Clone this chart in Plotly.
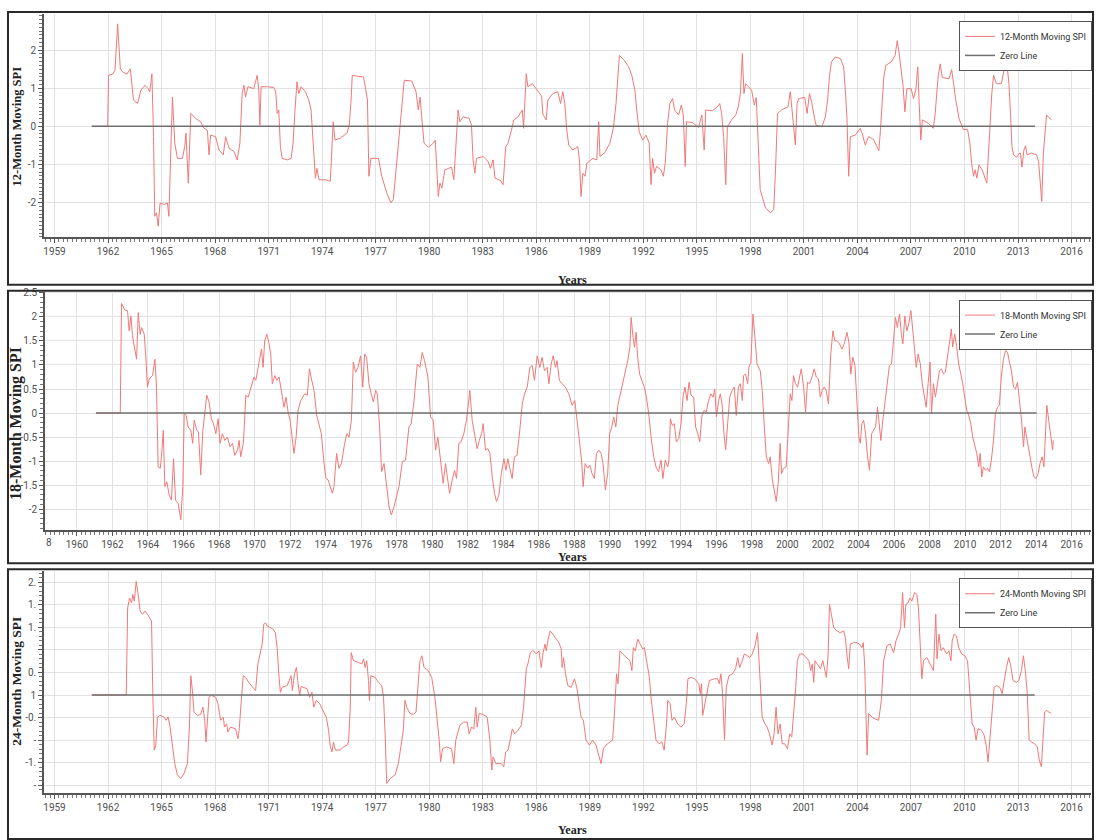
import plotly.graph_objects as go

W, H = 1096, 840


def fx(p):
    return p / W


def fy(p):
    return 1 - p / H


# ---------------- data: 12-month SPI ----------------
YEARS_12 = [1961.09, 1961.98, 1962.03, 1962.26, 1962.39, 1962.54, 1962.69, 1962.82, 1963.06, 1963.25, 1963.43, 1963.66, 1963.84, 1964.07, 1964.25, 1964.34, 1964.46, 1964.55, 1964.62, 1964.72, 1964.81, 1964.92, 1965.15, 1965.33, 1965.41, 1965.61, 1965.74, 1965.89, 1966.17, 1966.30, 1966.37, 1966.50, 1966.64, 1966.91, 1967.19, 1967.38, 1967.57, 1967.66, 1967.75, 1968.03, 1968.22, 1968.46, 1968.59, 1968.78, 1969.06, 1969.24, 1969.39, 1969.52, 1969.61, 1969.71, 1969.84, 1970.17, 1970.36, 1970.45, 1970.51, 1970.58, 1970.92, 1971.29, 1971.40, 1971.48, 1971.57, 1971.66, 1971.76, 1972.04, 1972.26, 1972.37, 1972.48, 1972.59, 1972.69, 1972.82, 1973.06, 1973.25, 1973.38, 1973.47, 1973.54, 1973.62, 1973.71, 1973.82, 1974.18, 1974.46, 1974.55, 1974.62, 1974.72, 1975.01, 1975.39, 1975.52, 1975.61, 1975.69, 1976.04, 1976.32, 1976.45, 1976.54, 1976.62, 1976.73, 1977.16, 1977.34, 1977.62, 1977.85, 1977.99, 1978.18, 1978.37, 1978.60, 1979.02, 1979.26, 1979.39, 1979.49, 1979.58, 1979.71, 1979.95, 1980.23, 1980.34, 1980.42, 1980.51, 1980.60, 1980.71, 1980.88, 1981.25, 1981.38, 1981.49, 1981.62, 1981.72, 1981.90, 1982.24, 1982.37, 1982.46, 1982.56, 1982.65, 1983.02, 1983.30, 1983.43, 1983.58, 1983.69, 1983.99, 1984.14, 1984.29, 1984.42, 1984.61, 1984.74, 1984.98, 1985.22, 1985.29, 1985.37, 1985.44, 1985.53, 1985.78, 1986.09, 1986.30, 1986.37, 1986.56, 1986.65, 1986.93, 1987.21, 1987.36, 1987.49, 1987.60, 1987.71, 1987.82, 1988.05, 1988.33, 1988.42, 1988.51, 1988.61, 1988.74, 1988.83, 1989.17, 1989.39, 1989.50, 1989.57, 1989.82, 1990.13, 1990.32, 1990.47, 1990.56, 1990.66, 1990.94, 1991.18, 1991.35, 1991.44, 1991.53, 1991.63, 1991.77, 1991.96, 1992.15, 1992.33, 1992.43, 1992.52, 1992.63, 1992.74, 1992.99, 1993.12, 1993.23, 1993.36, 1993.49, 1993.64, 1993.75, 1993.98, 1994.13, 1994.24, 1994.29, 1994.35, 1994.42, 1994.76, 1995.09, 1995.28, 1995.41, 1995.50, 1995.87, 1996.15, 1996.28, 1996.39, 1996.50, 1996.62, 1996.71, 1996.95, 1997.18, 1997.32, 1997.44, 1997.55, 1997.64, 1997.73, 1998.07, 1998.22, 1998.33, 1998.44, 1998.55, 1998.66, 1998.85, 1999.13, 1999.31, 1999.41, 1999.52, 1999.78, 2000.11, 2000.24, 2000.34, 2000.45, 2000.52, 2000.62, 2000.71, 2001.05, 2001.18, 2001.31, 2001.45, 2001.58, 2001.68, 2002.01, 2002.20, 2002.33, 2002.43, 2002.54, 2002.76, 2003.04, 2003.23, 2003.32, 2003.41, 2003.51, 2003.60, 2003.88, 2004.16, 2004.29, 2004.44, 2004.62, 2004.90, 2005.09, 2005.20, 2005.29, 2005.39, 2005.48, 2005.59, 2005.89, 2006.11, 2006.23, 2006.34, 2006.45, 2006.56, 2006.66, 2006.77, 2007.01, 2007.14, 2007.27, 2007.38, 2007.47, 2007.55, 2007.64, 2007.97, 2008.25, 2008.36, 2008.46, 2008.53, 2008.64, 2008.75, 2009.13, 2009.28, 2009.39, 2009.50, 2009.69, 2009.93, 2010.17, 2010.30, 2010.40, 2010.51, 2010.60, 2010.69, 2010.81, 2010.99, 2011.25, 2011.35, 2011.44, 2011.53, 2011.63, 2011.79, 2012.07, 2012.19, 2012.28, 2012.39, 2012.49, 2012.58, 2012.66, 2012.75, 2012.92, 2013.05, 2013.14, 2013.22, 2013.33, 2013.42, 2013.51, 2013.76, 2014.04, 2014.15, 2014.25, 2014.33, 2014.42, 2014.51, 2014.60, 2014.73, 2014.88]
SPI_12 = [0, 0, 1.34, 1.37, 1.47, 2.69, 1.51, 1.43, 1.37, 1.51, 0.69, 0.60, 0.95, 1.08, 0.99, 0.91, 1.38, -0.27, -2.36, -2.27, -2.62, -2.01, -2.05, -2.01, -2.36, 0.77, -0.44, -0.84, -0.84, -0.53, -0.18, -1.49, 0.34, 0.21, 0.12, -0.05, -0.10, -0.75, -0.23, -0.27, -0.62, -0.75, -0.27, -0.57, -0.66, -0.88, -0.44, 0.86, 1.08, 0.77, 1.04, 0.99, 1.34, 0.95, 0.03, 1.04, 1.04, 1.02, 0.91, 0.34, 0.43, -0.53, -0.84, -0.88, -0.84, -0.44, 0.43, 1.17, 0.86, 1.04, 0.91, 0.69, 0.43, -0.44, -0.75, -1.36, -1.10, -1.40, -1.40, -1.44, -0.62, 0.12, -0.36, -0.31, -0.18, 0.03, 0.60, 1.34, 1.31, 1.30, 0.95, 0.69, -1.31, -0.84, -0.84, -1.31, -1.74, -2.01, -1.92, -0.97, 0.17, 1.21, 1.19, 0.91, 0.43, 0.77, 0.25, -0.44, -0.55, -0.44, -0.36, -1.14, -1.84, -1.49, -1.62, -1.14, -1.07, -1.40, -0.62, 0.43, 0.12, 0.25, 0.21, 0.03, -0.88, -1.23, -0.84, -0.79, -0.92, -1.10, -0.88, -1.36, -1.42, -1.53, -0.53, -0.44, -0.10, 0.17, 0.25, 0.43, -0.05, 0.77, 1.38, 1.04, 1.12, 0.93, 0.79, 0.32, 0.17, 0.69, 0.86, 0.91, 0.60, 0.91, 0.60, -0.10, -0.49, -0.62, -0.53, -0.88, -1.84, -1.23, -1.31, -0.97, -0.84, -0.88, 0.12, -0.79, -0.70, -0.44, -0.05, 0.60, 1.30, 1.86, 1.73, 1.56, 1.34, 1.12, 0.95, 0.43, -0.14, -0.36, -0.23, -0.44, -1.53, -0.84, -1.23, -1.05, -1.14, -1.31, -0.97, 0.08, 0.60, 0.73, 0.43, 0.30, 0.56, 0.30, -0.18, -1.05, 0.12, 0.10, -0.03, 0.30, -0.62, 0.43, 0.41, 0.51, 0.60, 0.34, -0.27, -1.53, -0.01, 0.17, 0.30, 0.51, 0.86, 1.91, 0.86, 1.12, 0.95, 0.56, 0.76, -0.27, -1.66, -1.84, -2.14, -2.27, -2.18, -1.14, 0.34, 0.44, 0.51, 0.91, 0.34, -0.27, -0.49, 0.60, 0.73, 0.76, 0.34, 0.86, 0.60, 0.25, 0.03, -0.01, 0.25, 0.69, 1.30, 1.69, 1.82, 1.78, 1.56, 0.95, 0.25, -1.31, -0.27, -0.23, -0.05, -0.23, -0.49, -0.27, -0.34, -0.53, -0.64, -0.10, 0.60, 1.30, 1.60, 1.69, 1.86, 2.25, 1.91, 1.51, 1.04, 0.38, 0.99, 0.99, 0.73, 0.95, 1.56, 0.51, -0.36, 0.17, 0.08, -0.05, 0.34, 0.95, 1.34, 1.64, 1.28, 1.25, 1.49, 1.12, 0.73, 0.21, -0.08, -0.08, -0.44, -0.97, -1.31, -1.14, -1.36, -1.01, -1.14, -1.49, -0.70, 0.17, 0.86, 1.34, 1.12, 1.12, 1.47, 1.64, 1.58, 1.12, 0.34, -0.53, -0.75, -0.81, -0.72, -0.70, -1.07, -0.62, -0.51, -0.75, -0.70, -0.75, -0.92, -1.40, -1.97, -0.70, -0.10, 0.30, 0.23, 0.17]

# ---------------- data: 18-month SPI ----------------
YEARS_18 = [1961.07, 1962.44, 1962.51, 1962.70, 1962.85, 1962.94, 1963.04, 1963.13, 1963.22, 1963.36, 1963.45, 1963.56, 1963.64, 1963.79, 1963.88, 1963.97, 1964.07, 1964.26, 1964.39, 1964.48, 1964.57, 1964.69, 1964.76, 1964.86, 1964.95, 1965.06, 1965.19, 1965.32, 1965.44, 1965.55, 1965.70, 1965.85, 1965.96, 1966.04, 1966.15, 1966.26, 1966.41, 1966.52, 1966.60, 1966.75, 1966.84, 1966.97, 1967.09, 1967.20, 1967.31, 1967.44, 1967.57, 1967.69, 1967.82, 1967.95, 1968.06, 1968.19, 1968.32, 1968.47, 1968.62, 1968.76, 1968.89, 1969.04, 1969.13, 1969.22, 1969.37, 1969.51, 1969.64, 1969.75, 1969.88, 1969.97, 1970.07, 1970.20, 1970.31, 1970.39, 1970.48, 1970.57, 1970.69, 1970.80, 1970.91, 1971.00, 1971.14, 1971.25, 1971.38, 1971.51, 1971.66, 1971.77, 1971.89, 1972.00, 1972.11, 1972.22, 1972.34, 1972.45, 1972.60, 1972.71, 1972.82, 1972.97, 1973.09, 1973.20, 1973.35, 1973.50, 1973.63, 1973.76, 1973.91, 1974.02, 1974.14, 1974.25, 1974.38, 1974.47, 1974.62, 1974.75, 1974.89, 1975.04, 1975.19, 1975.32, 1975.45, 1975.56, 1975.69, 1975.82, 1975.97, 1976.09, 1976.20, 1976.31, 1976.44, 1976.57, 1976.69, 1976.82, 1976.91, 1977.04, 1977.15, 1977.29, 1977.44, 1977.57, 1977.70, 1977.85, 1978.13, 1978.32, 1978.50, 1978.69, 1978.82, 1978.97, 1979.16, 1979.31, 1979.44, 1979.57, 1979.76, 1979.91, 1980.06, 1980.19, 1980.32, 1980.47, 1980.62, 1980.75, 1980.85, 1980.98, 1981.13, 1981.26, 1981.37, 1981.50, 1981.63, 1981.78, 1981.93, 1982.07, 1982.12, 1982.25, 1982.38, 1982.53, 1982.65, 1982.78, 1982.87, 1983.00, 1983.14, 1983.25, 1983.38, 1983.51, 1983.62, 1983.76, 1983.89, 1984.04, 1984.15, 1984.26, 1984.37, 1984.50, 1984.63, 1984.78, 1984.93, 1985.07, 1985.20, 1985.35, 1985.50, 1985.63, 1985.76, 1985.91, 1986.06, 1986.19, 1986.32, 1986.47, 1986.57, 1986.70, 1986.81, 1986.94, 1987.03, 1987.16, 1987.32, 1987.50, 1987.69, 1987.88, 1988.03, 1988.16, 1988.29, 1988.41, 1988.50, 1988.61, 1988.76, 1988.87, 1989.00, 1989.13, 1989.25, 1989.38, 1989.51, 1989.62, 1989.75, 1989.88, 1989.99, 1990.11, 1990.22, 1990.34, 1990.45, 1990.60, 1990.75, 1990.88, 1991.01, 1991.13, 1991.20, 1991.31, 1991.39, 1991.48, 1991.57, 1991.68, 1991.81, 1991.94, 1992.06, 1992.19, 1992.32, 1992.47, 1992.62, 1992.75, 1992.88, 1992.99, 1993.12, 1993.26, 1993.33, 1993.41, 1993.52, 1993.63, 1993.75, 1993.88, 1994.01, 1994.12, 1994.23, 1994.35, 1994.46, 1994.57, 1994.72, 1994.83, 1994.95, 1995.06, 1995.19, 1995.32, 1995.43, 1995.56, 1995.69, 1995.82, 1995.91, 1996.00, 1996.13, 1996.22, 1996.32, 1996.41, 1996.52, 1996.63, 1996.75, 1996.88, 1997.01, 1997.12, 1997.24, 1997.35, 1997.46, 1997.53, 1997.64, 1997.76, 1997.83, 1997.94, 1998.06, 1998.17, 1998.29, 1998.47, 1998.58, 1998.70, 1998.81, 1998.94, 1999.03, 1999.15, 1999.26, 1999.37, 1999.48, 1999.59, 1999.67, 1999.78, 1999.93, 2000.04, 2000.16, 2000.25, 2000.34, 2000.46, 2000.57, 2000.68, 2000.78, 2000.91, 2001.02, 2001.13, 2001.25, 2001.38, 2001.51, 2001.62, 2001.75, 2001.85, 2001.96, 2002.07, 2002.18, 2002.31, 2002.44, 2002.56, 2002.67, 2002.78, 2002.93, 2003.07, 2003.20, 2003.35, 2003.46, 2003.57, 2003.68, 2003.80, 2003.91, 2004.02, 2004.10, 2004.19, 2004.29, 2004.40, 2004.51, 2004.62, 2004.74, 2004.85, 2004.96, 2005.07, 2005.19, 2005.26, 2005.37, 2005.51, 2005.63, 2005.74, 2005.86, 2005.97, 2006.08, 2006.19, 2006.31, 2006.42, 2006.50, 2006.61, 2006.72, 2006.83, 2006.95, 2007.06, 2007.17, 2007.25, 2007.36, 2007.48, 2007.59, 2007.70, 2007.81, 2007.92, 2008.03, 2008.11, 2008.22, 2008.33, 2008.45, 2008.56, 2008.67, 2008.78, 2008.89, 2009.01, 2009.12, 2009.23, 2009.30, 2009.42, 2009.53, 2009.64, 2009.76, 2009.87, 2009.98, 2010.09, 2010.21, 2010.32, 2010.43, 2010.55, 2010.66, 2010.77, 2010.85, 2010.94, 2011.03, 2011.15, 2011.26, 2011.37, 2011.48, 2011.60, 2011.71, 2011.82, 2011.93, 2012.04, 2012.16, 2012.28, 2012.39, 2012.50, 2012.61, 2012.73, 2012.84, 2012.95, 2013.06, 2013.18, 2013.29, 2013.37, 2013.43, 2013.54, 2013.66, 2013.77, 2013.88, 2014.00, 2014.11, 2014.22, 2014.34, 2014.44, 2014.52, 2014.60, 2014.71, 2014.82, 2014.93, 2014.97]
SPI_18 = [0, 0, 2.28, 2.14, 2.13, 1.71, 2.02, 1.61, 1.40, 1.12, 2.09, 1.64, 1.78, 1.64, 1.16, 0.54, 0.71, 0.78, 1.12, 0.54, -1.12, -1.15, -0.91, -0.36, -1.53, -1.43, -1.70, -1.81, -0.95, -1.81, -1.88, -2.22, -1.53, -0.01, -0.05, -0.29, -0.36, -0.63, -0.15, -0.36, -0.39, -1.29, -0.36, 0.06, 0.37, 0.23, -0.12, -0.22, -0.43, -0.12, -0.63, -0.43, -0.57, -0.50, -0.70, -0.63, -0.88, -0.77, -0.57, -0.91, -0.63, 0.37, 0.33, 0.47, 0.61, 0.75, 0.68, 0.95, 1.23, 1.33, 0.95, 1.50, 1.64, 1.47, 1.23, 0.61, 0.78, 0.68, 0.75, 0.47, 0.12, 0.33, 0.02, -0.15, -0.57, -0.84, -0.50, 0.06, 0.26, 0.33, 0.40, 0.37, 0.92, 0.71, 0.47, -0.05, -0.22, -0.43, -1.05, -1.36, -1.39, -1.53, -1.67, -1.53, -0.84, -1.15, -1.05, -0.70, -0.43, -0.50, -0.15, 1.06, 0.85, 0.95, 1.19, 0.54, 1.23, 1.16, 0.61, 0.40, 0.23, 0.47, 0.40, -0.29, -1.22, -1.05, -1.53, -1.95, -2.12, -1.95, -1.53, -1.01, -0.98, -0.29, -0.22, 0.23, 1.02, 0.95, 1.26, 1.09, 0.75, -0.08, -0.15, -0.77, -0.50, -0.98, -1.46, -1.05, -1.29, -1.67, -1.39, -1.19, -1.36, -0.63, -0.60, -0.43, -0.15, 0.40, 0.47, -0.15, -0.43, -0.74, -0.57, -0.43, -0.22, -0.77, -0.74, -0.84, -1.33, -1.67, -1.84, -1.70, -1.26, -0.95, -1.19, -0.95, -1.15, -1.36, -0.91, -0.88, -0.36, 0.19, 0.40, 0.54, 0.95, 0.99, 0.68, 1.19, 0.95, 1.16, 0.88, 0.95, 0.61, 1.02, 1.19, 0.95, 1.09, 0.68, 0.61, 0.54, 0.40, 0.16, 0.26, -0.15, -0.63, -0.98, -1.53, -1.05, -1.15, -1.08, -1.26, -1.36, -0.84, -0.77, -0.84, -1.05, -1.60, -1.26, -0.43, -0.29, -0.08, -0.29, 0.16, 0.40, 0.61, 0.88, 1.09, 1.37, 1.99, 1.57, 1.37, 1.68, 1.16, 0.81, 0.68, 0.54, 0.33, -0.01, -0.50, -0.91, -1.15, -1.22, -0.98, -1.36, -0.98, -1.12, -0.98, -0.12, -0.26, -0.22, -0.60, -0.53, -0.22, 0.33, 0.54, 0.26, 0.64, 0.37, 0.33, -0.29, -0.43, -0.60, -0.05, 0.06, 0.02, 0.26, 0.40, 0.33, 0.50, -0.08, 0.26, 0.40, 0.19, -0.36, -0.77, -0.29, 0.33, 0.47, 0.54, -0.05, 0.54, 0.61, 0.26, 0.78, 0.81, 0.61, 0.95, 1.06, 2.06, 1.57, 1.02, 0.88, 0.47, -0.29, -0.91, -1.05, -0.91, -1.39, -1.64, -1.84, -1.46, -0.63, -1.26, -1.15, -1.12, -0.36, 0.40, 0.26, 0.78, 0.61, 0.54, 0.75, 0.92, 0.54, 0.02, 0.64, 0.61, 0.75, 0.92, 0.75, 0.71, 0.33, 0.47, 0.54, 0.47, 0.19, 1.23, 1.71, 1.50, 1.50, 1.44, 1.33, 1.44, 1.68, 1.47, 0.81, 1.16, 0.99, 0.33, -0.50, -0.63, -0.22, -0.15, -0.43, -0.91, -1.19, -0.43, -0.36, -0.29, 0.12, -0.29, -0.57, -0.15, 0.26, 0.61, 0.99, 1.02, 1.57, 1.99, 1.78, 2.06, 1.61, 1.44, 2.02, 1.71, 1.85, 2.13, 1.71, 1.30, 0.95, 1.23, 1.02, 0.61, 0.33, 0.12, 0.61, 1.06, -0.01, 0.61, 0.33, 0.61, 0.88, 0.92, 0.81, 0.85, 1.16, 1.50, 1.75, 1.37, 1.64, 1.37, 1.02, 0.81, 0.61, 0.33, 0.06, -0.05, -0.22, -0.50, -0.70, -0.84, -1.12, -0.84, -1.33, -1.12, -1.19, -1.15, -1.22, -0.98, -0.57, -0.01, 0.12, 0.16, 0.75, 1.12, 1.30, 1.26, 1.06, 0.88, 0.54, 0.50, 0.64, 0.26, -0.15, -0.70, -0.29, -0.43, -0.63, -0.91, -1.15, -1.33, -1.36, -1.26, -1.05, -0.91, -1.12, -0.57, 0.16, -0.15, -0.43, -0.77, -0.57]

# ---------------- data: 24-month SPI ----------------
YEARS_24 = [1961.09, 1963.02, 1963.10, 1963.21, 1963.32, 1963.39, 1963.47, 1963.58, 1963.69, 1963.80, 1963.93, 1964.07, 1964.21, 1964.36, 1964.44, 1964.51, 1964.59, 1964.68, 1964.77, 1964.92, 1965.15, 1965.26, 1965.37, 1965.48, 1965.61, 1965.74, 1965.89, 1966.08, 1966.26, 1966.37, 1966.45, 1966.56, 1966.64, 1966.73, 1966.82, 1967.01, 1967.19, 1967.32, 1967.42, 1967.49, 1967.57, 1967.66, 1967.79, 1968.03, 1968.16, 1968.31, 1968.46, 1968.53, 1968.65, 1968.72, 1968.87, 1969.15, 1969.28, 1969.35, 1969.47, 1969.58, 1969.71, 1969.89, 1970.17, 1970.27, 1970.40, 1970.55, 1970.64, 1970.73, 1970.83, 1970.92, 1971.10, 1971.25, 1971.38, 1971.48, 1971.57, 1971.66, 1971.76, 1972.04, 1972.26, 1972.33, 1972.45, 1972.56, 1972.63, 1972.74, 1972.82, 1973.00, 1973.15, 1973.30, 1973.43, 1973.53, 1973.67, 1973.86, 1974.05, 1974.23, 1974.36, 1974.46, 1974.55, 1974.64, 1974.74, 1975.01, 1975.20, 1975.39, 1975.48, 1975.57, 1975.63, 1975.76, 1976.04, 1976.23, 1976.32, 1976.41, 1976.50, 1976.60, 1976.65, 1976.73, 1976.97, 1977.16, 1977.34, 1977.44, 1977.53, 1977.62, 1977.81, 1978.09, 1978.27, 1978.40, 1978.55, 1978.64, 1978.74, 1978.92, 1979.11, 1979.26, 1979.39, 1979.48, 1979.59, 1979.71, 1979.95, 1980.14, 1980.32, 1980.45, 1980.56, 1980.64, 1980.75, 1980.97, 1981.25, 1981.38, 1981.49, 1981.72, 1981.94, 1982.13, 1982.24, 1982.37, 1982.50, 1982.61, 1982.69, 1982.80, 1983.02, 1983.25, 1983.40, 1983.51, 1983.58, 1983.73, 1984.05, 1984.18, 1984.29, 1984.42, 1984.55, 1984.66, 1984.79, 1984.98, 1985.16, 1985.29, 1985.44, 1985.53, 1985.67, 1985.82, 1986.00, 1986.15, 1986.28, 1986.37, 1986.49, 1986.56, 1986.67, 1986.78, 1986.93, 1987.08, 1987.27, 1987.40, 1987.45, 1987.53, 1987.64, 1987.77, 1987.96, 1988.14, 1988.27, 1988.38, 1988.51, 1988.64, 1988.79, 1988.98, 1989.16, 1989.35, 1989.50, 1989.63, 1989.76, 1989.91, 1990.13, 1990.28, 1990.37, 1990.50, 1990.58, 1990.69, 1990.84, 1991.06, 1991.25, 1991.36, 1991.44, 1991.55, 1991.69, 1991.82, 1991.97, 1992.06, 1992.19, 1992.34, 1992.43, 1992.56, 1992.71, 1992.89, 1993.04, 1993.17, 1993.30, 1993.37, 1993.50, 1993.61, 1993.74, 1993.92, 1994.11, 1994.29, 1994.41, 1994.50, 1994.69, 1994.87, 1995.11, 1995.19, 1995.26, 1995.33, 1995.42, 1995.56, 1995.70, 1995.98, 1996.16, 1996.26, 1996.35, 1996.44, 1996.55, 1996.65, 1996.80, 1996.99, 1997.17, 1997.29, 1997.40, 1997.55, 1997.66, 1997.83, 1997.96, 1998.11, 1998.26, 1998.40, 1998.48, 1998.57, 1998.66, 1998.81, 1998.94, 1999.07, 1999.22, 1999.33, 1999.44, 1999.55, 1999.67, 1999.78, 1999.93, 2000.08, 2000.21, 2000.32, 2000.43, 2000.54, 2000.63, 2000.76, 2000.95, 2001.10, 2001.28, 2001.38, 2001.47, 2001.55, 2001.62, 2001.74, 2001.93, 2002.06, 2002.17, 2002.26, 2002.36, 2002.43, 2002.54, 2002.67, 2002.86, 2003.04, 2003.23, 2003.32, 2003.43, 2003.51, 2003.60, 2003.79, 2003.98, 2004.11, 2004.25, 2004.33, 2004.41, 2004.48, 2004.54, 2004.63, 2004.82, 2005.00, 2005.19, 2005.34, 2005.47, 2005.65, 2005.84, 2006.03, 2006.16, 2006.31, 2006.42, 2006.53, 2006.64, 2006.71, 2006.83, 2006.94, 2007.05, 2007.20, 2007.33, 2007.42, 2007.51, 2007.61, 2007.70, 2007.89, 2008.07, 2008.26, 2008.39, 2008.46, 2008.57, 2008.68, 2008.81, 2009.00, 2009.13, 2009.24, 2009.31, 2009.42, 2009.55, 2009.68, 2009.83, 2010.02, 2010.17, 2010.30, 2010.43, 2010.54, 2010.65, 2010.76, 2010.95, 2011.10, 2011.23, 2011.32, 2011.42, 2011.55, 2011.66, 2011.79, 2011.98, 2012.11, 2012.22, 2012.35, 2012.48, 2012.59, 2012.72, 2012.91, 2013.04, 2013.19, 2013.30, 2013.41, 2013.52, 2013.62, 2013.75, 2013.93, 2014.08, 2014.19, 2014.31, 2014.40, 2014.49, 2014.58, 2014.77, 2014.86]
SPI_24 = [0, 0, 1.93, 2.15, 2.04, 2.23, 2.08, 2.52, 2.23, 1.86, 1.79, 1.86, 1.79, 1.71, 1.64, 0.03, -1.22, -1.11, -0.49, -0.45, -0.49, -0.56, -0.49, -0.71, -1.15, -1.52, -1.77, -1.85, -1.74, -1.59, -1.52, -0.71, 0.43, 0.10, -0.38, -0.45, -0.43, -0.27, -0.56, -1.04, -0.56, -0.05, -0.01, -0.05, -0.19, -0.56, -0.49, -0.71, -0.64, -0.82, -0.71, -0.75, -0.97, -0.78, -0.12, 0.43, 0.39, 0.28, 0.14, 0.10, 0.69, 0.94, 1.13, 1.57, 1.60, 1.53, 1.49, 1.46, 1.38, 1.05, 0.47, 0.06, 0.17, 0.21, 0.43, 0.10, 0.47, 0.61, 0.32, -0.01, 0.19, 0.17, 0.14, -0.05, 0.06, -0.27, -0.12, -0.19, -0.34, -0.49, -0.78, -1.15, -1.26, -1.04, -1.22, -1.22, -1.15, -1.11, -1.04, -0.34, 0.94, 0.76, 0.72, 0.69, 0.80, 0.61, 0.76, 0.32, -0.12, 0.43, 0.39, 0.28, 0.21, -0.05, -0.86, -1.96, -1.85, -1.77, -1.52, -1.22, -0.78, -0.12, -0.27, -0.41, -0.43, -0.38, 0.39, 0.76, 0.87, 0.61, 0.54, 0.39, -0.05, -0.49, -1.00, -1.48, -1.19, -1.15, -1.19, -1.52, -1.00, -0.67, -0.60, -0.60, -0.86, -0.71, -0.75, -0.27, -0.71, -0.41, -0.43, -0.49, -1.00, -1.66, -1.37, -1.52, -1.52, -1.59, -1.26, -1.22, -0.93, -0.75, -0.86, -0.78, -0.67, -0.27, 0.58, 0.69, 0.94, 0.99, 0.91, 0.98, 0.61, 0.91, 1.13, 0.98, 1.24, 1.42, 1.35, 1.27, 1.16, 1.02, 0.61, 0.83, 0.47, 0.21, 0.17, 0.36, 0.17, -0.12, -0.49, -0.56, -1.00, -1.11, -1.00, -1.11, -1.30, -1.52, -1.19, -1.11, -1.04, -1.00, -0.49, 0.47, 0.25, 0.98, 0.91, 0.83, 0.76, 0.54, 1.05, 0.98, 1.24, 1.13, 1.02, 1.05, 0.76, 0.39, -0.05, -0.56, -1.00, -1.08, -1.04, -1.22, -0.64, -0.12, -0.19, -0.56, -0.49, -0.64, -0.71, -0.64, -0.19, 0.36, 0.39, 0.36, 0.25, 0.03, 0.25, -0.45, -0.27, 0.03, 0.32, 0.36, 0.36, 0.25, 0.47, 0.03, -1.00, 0.17, 0.43, 0.47, 0.58, 0.83, 0.61, 0.76, 0.91, 0.87, 0.83, 0.91, 1.09, 1.38, 0.76, 0.03, -0.49, -0.64, -0.71, -0.86, -1.11, -0.86, -0.27, -0.86, -0.64, -1.08, -1.08, -1.19, -0.86, -0.93, -0.41, 0.17, 0.76, 0.91, 0.91, 0.83, 0.76, 0.54, 0.69, 0.28, 0.76, 0.69, 0.58, 0.76, 0.54, 0.39, 0.91, 2.01, 1.79, 1.49, 1.42, 1.38, 1.42, 1.27, 0.83, 0.58, 1.13, 1.16, 1.16, 1.13, 1.05, 1.16, 0.61, -0.71, -1.33, -0.41, -0.49, -0.53, -0.56, -0.12, 0.76, 1.09, 1.13, 0.94, 1.20, 1.35, 1.49, 2.27, 1.49, 2.01, 2.04, 2.15, 2.08, 2.27, 2.23, 1.93, 1.27, 0.36, 0.76, 0.83, 0.69, 0.54, 1.79, 0.80, 1.35, 0.98, 1.05, 0.91, 0.98, 0.76, 1.20, 1.35, 1.31, 1.05, 0.91, 0.87, 0.76, -0.05, -0.64, -0.71, -1.00, -0.75, -0.78, -0.89, -1.15, -1.48, -0.93, -0.27, 0.17, 0.21, 0.17, 0.03, 0.32, 0.61, 0.83, 0.65, 0.32, 0.28, 0.32, 0.54, 0.87, 0.54, 0.03, -1.00, -1.04, -1.08, -1.15, -1.44, -1.59, -1.00, -0.38, -0.34, -0.38, -0.41]

# zero-line spans and labels
ZERO_12 = [1961.09, 2013.95]
ZERO_18 = [1961.07, 2014.03]
ZERO_24 = [1961.09, 2013.93]
ZERO_Y = [0, 0]

NAMES = ["12-Month Moving SPI", "18-Month Moving SPI", "24-Month Moving SPI"]

Y1_TICKS = [-2, -1, 0, 1, 2]
Y1_TEXT = ["-2", "-1", "0", "1", "2"]
Y2_TICKS = [-2, -1.5, -1, -0.5, 0, 0.5, 1, 1.5, 2, 2.5]
Y2_TEXT = ["-2", "-1.5", "-1", "-0.5", "0", "0.5", "1", "1.5", "2", "2.5"]
Y3_TICKS = [-2, -1.5, -1, -0.5, 0, 0.5, 1, 1.5, 2, 2.5]
Y3_TEXT = ["-", "-1.", "-", "-0.", "1", "0.", "", "1.", "1.", "2."]

SPI_COLOR = "#f07878"
ZERO_COLOR = "#707070"
GRID = "#e2e2e2"
AXIS = "#555555"
TICKFONT = dict(family="Liberation Sans Narrow, Roboto, sans-serif", size=10, color="#505050")
TITLEFONT = "Liberation Serif, Times New Roman, serif"

fig = go.Figure()

series = [
    (YEARS_12, SPI_12, ZERO_12, "x", "y", "legend"),
    (YEARS_18, SPI_18, ZERO_18, "x2", "y2", "legend2"),
    (YEARS_24, SPI_24, ZERO_24, "x3", "y3", "legend3"),
]
for (xs, ys, zx, xa, ya, lg), name in zip(series, NAMES):
    fig.add_trace(go.Scatter(x=xs, y=ys, mode="lines", name=name,
                             line=dict(color=SPI_COLOR, width=1),
                             xaxis=xa, yaxis=ya, legend=lg))
    fig.add_trace(go.Scatter(x=zx, y=ZERO_Y, mode="lines", name="Zero Line",
                             line=dict(color=ZERO_COLOR, width=1.5),
                             xaxis=xa, yaxis=ya, legend=lg))

# panel geometry in pixels: (left, right, top, bottom)
P1 = (43, 1091, 10, 234)
P2 = (44, 1091, 289, 529)
P3 = (43, 1091, 570, 793)


def xax(p, rng, tick0, dtick, anchor):
    return dict(domain=[fx(p[0]), fx(p[1])], anchor=anchor, range=rng,
                tickmode="linear", tick0=tick0, dtick=dtick,
                ticks="outside", ticklen=4, tickcolor=AXIS, tickwidth=1,
                showline=True, linecolor=AXIS, linewidth=1.5,
                showgrid=True, gridcolor=GRID, gridwidth=1, zeroline=False,
                tickfont=TICKFONT,
                minor=dict(tick0=tick0, dtick=0.25, ticks="outside", ticklen=3,
                           tickcolor="#777777", showgrid=False))


def yax(p, rng, vals, texts, anchor):
    return dict(domain=[fy(p[3]), fy(p[2])], anchor=anchor, range=rng,
                tickmode="array", tickvals=vals, ticktext=texts,
                ticks="outside", ticklen=4, tickcolor=AXIS, tickwidth=1,
                showline=True, linecolor=AXIS, linewidth=1.5,
                showgrid=True, gridcolor=GRID, gridwidth=1, zeroline=False,
                tickfont=TICKFONT,
                minor=dict(tick0=0, dtick=0.1, ticks="outside", ticklen=3,
                           tickcolor="#777777", showgrid=False))


def legend_at(top):
    return dict(x=fx(1092), xanchor="right", y=fy(top), yanchor="top",
                bgcolor="white", bordercolor="#555555", borderwidth=1,
                font=dict(family="Liberation Sans Narrow, Roboto, sans-serif", size=9, color="#333333"),
                itemwidth=30, tracegroupgap=0)


shapes = []
for (t, b) in [(8, 282), (288, 562), (568, 839)]:
    shapes.append(dict(type="rect", xref="paper", yref="paper",
                       x0=fx(7), x1=fx(1093), y0=fy(b), y1=fy(t),
                       line=dict(color="#2a2a2a", width=2), layer="above"))

annotations = []
for (cx, cy, size, name) in [(16, 123, 12.5, NAMES[0]), (15, 421, 16, NAMES[1]), (16, 680, 13.5, NAMES[2])]:
    annotations.append(dict(text="<b>" + name + "</b>", xref="paper", yref="paper",
                            x=fx(cx), y=fy(cy), textangle=-90, showarrow=False,
                            xanchor="center", yanchor="middle",
                            font=dict(family=TITLEFONT, size=size, color="#222222")))
for cy in [277, 556, 830]:
    annotations.append(dict(text="<b>Years</b>", xref="paper", yref="paper",
                            x=fx(572), y=fy(cy), showarrow=False,
                            xanchor="center", yanchor="middle",
                            font=dict(family=TITLEFONT, size=12, color="#222222")))
annotations.append(dict(text="8", xref="paper", yref="paper", x=fx(48), y=fy(541),
                        showarrow=False, xanchor="center", yanchor="middle", font=TICKFONT))

fig.update_layout(
    width=W, height=H, margin=dict(l=0, r=0, t=0, b=0),
    paper_bgcolor="white", plot_bgcolor="white",
    showlegend=True,
    xaxis=xax(P1, [1958.41, 2017.09], 1959, 3, "y"),
    yaxis=yax(P1, [-2.9, 2.95], Y1_TICKS, Y1_TEXT, "x"),
    xaxis2=xax(P2, [1958.2, 2017.09], 1960, 2, "y2"),
    yaxis2=yax(P2, [-2.443, 2.526], Y2_TICKS, Y2_TEXT, "x2"),
    xaxis3=xax(P3, [1958.41, 2017.09], 1959, 3, "y3"),
    yaxis3=yax(P3, [-2.176, 2.742], Y3_TICKS, Y3_TEXT, "x3"),
    legend=legend_at(17),
    legend2=legend_at(297),
    legend3=legend_at(577),
    shapes=shapes,
    annotations=annotations,
)

fig.write_html("out.html", config={"displayModeBar": False},
               post_script="document.body.style.margin='0px';")
